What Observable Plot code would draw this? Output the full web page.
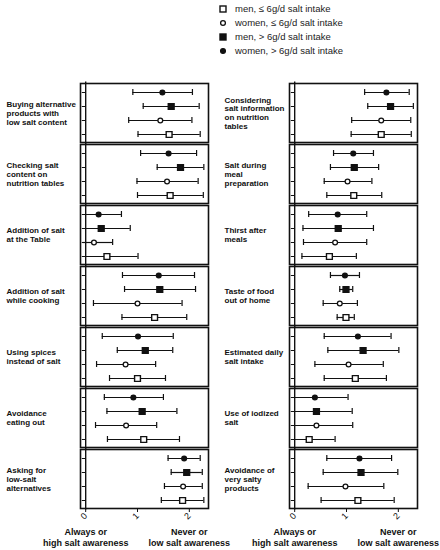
<!DOCTYPE html>
<html>
<head>
<meta charset="utf-8">
<script src="https://cdn.jsdelivr.net/npm/d3@7"></script>
<script src="https://cdn.jsdelivr.net/npm/@observablehq/plot@0.6"></script>
<style>
  html, body { margin: 0; padding: 0; background: #fff; }
  #legend { position: relative; height: 60px; font: 9.5px "Liberation Sans", Arial, sans-serif; color: #222; }
  .li { position: absolute; left: 218px; height: 14px; line-height: 14px; display: flex; align-items: center; white-space: nowrap; }
  .li svg { width: 10px; height: 10px; margin-right: 7px; }
</style>
</head>
<body>
<div id="legend"></div>
<div id="chart"></div>
<script>
// Series (top to bottom inside each panel)
const series = [
  "women, > 6g/d salt intake",
  "men, > 6g/d salt intake",
  "women, ≤ 6g/d salt intake",
  "men, ≤ 6g/d salt intake"
];
const legendOrder = [
  "men, ≤ 6g/d salt intake",
  "women, ≤ 6g/d salt intake",
  "men, > 6g/d salt intake",
  "women, > 6g/d salt intake"
];

const leftItems = [
  "Buying alternative\nproducts with\nlow salt content",
  "Checking salt\ncontent on\nnutrition tables",
  "Addition of salt\nat the Table",
  "Addition of salt\nwhile cooking",
  "Using spices\ninstead of salt",
  "Avoidance\neating out",
  "Asking for\nlow-salt\nalternatives"
];
const rightItems = [
  "Considering\nsalt information\non nutrition\ntables",
  "Salt during\nmeal\npreparation",
  "Thirst after\nmeals",
  "Taste of food\nout of home",
  "Estimated daily\nsalt intake",
  "Use of iodized\nsalt",
  "Avoidance of\nvery salty\nproducts"
];

// [mean, lower, upper] per panel
const leftWomenHigh = [[1.48,0.91,2.06],[1.60,1.06,2.14],[0.25,-0.05,0.69],[1.41,0.71,2.10],[1.01,0.32,1.69],[0.92,0.36,1.50],[1.90,1.59,2.21]];
const leftMenHigh   = [[1.65,1.11,2.19],[1.83,1.38,2.28],[0.30,-0.05,0.86],[1.43,0.75,2.12],[1.15,0.61,1.68],[1.09,0.41,1.76],[1.95,1.65,2.25]];
const leftWomenLow  = [[1.44,0.83,2.05],[1.57,0.99,2.17],[0.16,-0.05,0.52],[1.00,0.15,1.86],[0.77,0.21,1.35],[0.78,0.19,1.37],[1.88,1.52,2.25]];
const leftMenLow    = [[1.61,1.01,2.21],[1.63,1.00,2.27],[0.41,-0.05,1.01],[1.33,0.70,1.95],[1.00,0.46,1.54],[1.12,0.42,1.81],[1.87,1.46,2.28]];
const rightWomenHigh = [[1.77,1.35,2.21],[1.13,0.75,1.52],[0.83,0.27,1.39],[0.97,0.69,1.25],[1.22,0.57,1.86],[0.39,-0.05,1.03],[1.25,0.62,1.87]];
const rightMenHigh   = [[1.85,1.41,2.29],[1.15,0.69,1.62],[0.84,0.16,1.52],[0.99,0.87,1.12],[1.32,0.64,2.01],[0.42,-0.05,1.11],[1.28,0.55,1.99]];
const rightWomenLow  = [[1.67,1.10,2.24],[1.02,0.57,1.49],[0.78,0.17,1.39],[0.87,0.55,1.21],[1.04,0.39,1.71],[0.42,-0.05,1.12],[0.98,0.26,1.72]];
const rightMenLow    = [[1.67,1.09,2.25],[1.14,0.62,1.68],[0.67,0.14,1.19],[0.99,0.82,1.15],[1.17,0.57,1.77],[0.28,-0.05,0.78],[1.22,0.51,1.92]];

const xTicks = [0, 1, 2];
const axisTitles = ["Always or\nhigh salt awareness", "Never or\nlow salt awareness"];
const axisTitlePos = [0, 2];

// ---- build tables ----
const columns = [
  [leftWomenHigh, leftMenHigh, leftWomenLow, leftMenLow],
  [rightWomenHigh, rightMenHigh, rightWomenLow, rightMenLow]
];
const rows = [];
columns.forEach((sets, col) => {
  sets.forEach((arr, s) => {
    arr.forEach(([mean, lo, hi], panel) => {
      rows.push({col, panel, series: series[s], sex: series[s].startsWith("women") ? "women" : "men", mean, lo, hi});
    });
  });
});
const itemRows = [];
[leftItems, rightItems].forEach((items, col) => items.forEach((label, panel) => itemRows.push({col, panel, label})));
const nPanels = leftItems.length;
const titleRows = [];
[0, 1].forEach(col => axisTitles.forEach((t, i) => titleRows.push({col, panel: nPanels - 1, x: axisTitlePos[i], text: t})));

const ink = "#111";
const fills = {"women, > 6g/d salt intake": ink, "men, > 6g/d salt intake": ink, "women, ≤ 6g/d salt intake": "#fff", "men, ≤ 6g/d salt intake": "#fff"};

// ---- legend ----
const legend = document.getElementById("legend");
legendOrder.forEach((s, i) => {
  const div = document.createElement("div");
  div.className = "li";
  div.style.top = (2 + i * 14) + "px";
  const isSquare = s.startsWith("men");
  const f = fills[s];
  const sym = isSquare
    ? `<rect x="2" y="2" width="6" height="6" fill="${f}" stroke="${ink}" stroke-width="1.4"/>`
    : `<circle cx="5" cy="5" r="2.4" fill="${f}" stroke="${ink}" stroke-width="1.3"/>`;
  div.innerHTML = `<svg viewBox="0 0 10 10">${sym}</svg><span>${s}</span>`;
  legend.appendChild(div);
});

// ---- chart ----
const fc = {fx: "col", fy: "panel"};
const chart = Plot.plot({
  width: 440,
  height: 490,
  marginTop: 21,
  marginBottom: 39,
  marginLeft: 80,
  marginRight: 23,
  style: {fontFamily: "'Liberation Sans', Arial, sans-serif", fontSize: "9px", color: ink, background: "#fff"},
  fx: {domain: [0, 1], axis: null, paddingInner: 0.3876, paddingOuter: 0},
  fy: {domain: d3.range(nPanels), axis: null, paddingInner: 0.03, paddingOuter: 0},
  x: {domain: [-0.1, 2.37], ticks: xTicks, tickRotate: -45, tickSize: 4, tickPadding: 2, label: null, tickFormat: d => String(d)},
  y: {type: "band", domain: series, paddingInner: 0.6, paddingOuter: 0.3, axis: null},
  color: {type: "ordinal", domain: series, range: series.map(s => fills[s])},
  marks: [
    Plot.frame({stroke: ink, strokeWidth: 1.6}),
    Plot.ruleX([0], {stroke: ink, strokeWidth: 1.4, insetTop: -1.5, insetBottom: -1.5}),
    Plot.ruleY(rows, {...fc, y: "series", x1: () => -0.065, x2: () => 0, stroke: ink, strokeWidth: 1}),
    Plot.ruleY(rows, {...fc, y: "series", x1: "lo", x2: "hi", stroke: ink, strokeWidth: 1.2}),
    Plot.tickX(rows, {...fc, filter: d => d.lo >= 0, y: "series", x: "lo", stroke: ink, strokeWidth: 1.2}),
    Plot.tickX(rows, {...fc, y: "series", x: "hi", stroke: ink, strokeWidth: 1.2}),
    Plot.dot(rows, {...fc, filter: d => d.sex === "women", x: "mean", y: "series", r: 2.4, fill: "series", stroke: ink, strokeWidth: 1.3}),
    Plot.dot(rows, {...fc, filter: d => d.sex === "men", x: "mean", y: "series", symbol: "square", r: 3.3, fill: "series", stroke: ink, strokeWidth: 1.4}),
    Plot.text(itemRows, {...fc, filter: d => d.col === 0, text: "label", frameAnchor: "left", textAnchor: "start", dx: -74, fontWeight: "bold", fontSize: 8, lineHeight: 1.09, fill: ink}),
    Plot.text(itemRows, {...fc, filter: d => d.col === 1, text: "label", frameAnchor: "left", textAnchor: "start", dx: -65, fontWeight: "bold", fontSize: 8, lineHeight: 1.09, fill: ink}),
    Plot.text(titleRows, {...fc, x: "x", text: "text", frameAnchor: "bottom", lineAnchor: "top", dy: 19, fontWeight: "bold", fontSize: 9, lineHeight: 1.2, fill: ink})
  ]
});
document.getElementById("chart").appendChild(chart);
</script>
</body>
</html>
